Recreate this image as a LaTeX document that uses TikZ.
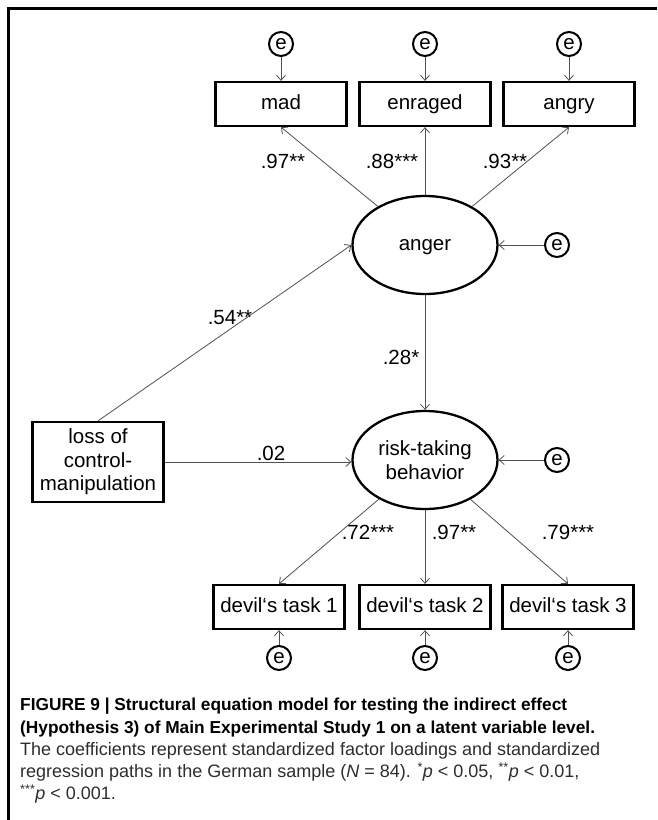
\documentclass[tikz,border=0pt]{standalone}
\usepackage{fontspec}
\setmainfont{Liberation Sans}
\usetikzlibrary{arrows.meta}
\usetikzlibrary{shapes}
\definecolor{pathgray}{RGB}{80,80,80}
\definecolor{capgray}{RGB}{45,45,45}

\begin{document}
\begin{tikzpicture}[x=1pt,y=-1pt]
      \tikzstyle{every node}=[font=\fontsize{20.5}{23.5}\selectfont, inner sep=0pt]
      \tikzstyle{txt}=[text height=15pt, text depth=4.3pt]
      \tikzstyle{box}=[draw, rectangle, line width=2.3pt, minimum width=131pt, minimum height=44pt]
      \tikzstyle{obs}=[box, txt]
      \tikzstyle{lat}=[draw, ellipse, line width=2.3pt, minimum width=145pt, minimum height=98pt]
      \tikzstyle{err}=[draw, circle, line width=2pt, minimum size=24pt]
      \tikzstyle{arr}=[draw=pathgray, line width=0.8pt, -{Straight Barb[length=5pt,width=9pt]}]
      \useasboundingbox (0,0) rectangle (657,820);
      \draw[line width=3pt] (657,8) -- (8,8) -- (8,820);

      % measurement of anger
      \node[err] (e1) at (281,44) {e};
      \node[err] (e2) at (425,44) {e};
      \node[err] (e3) at (569,44) {e};
      \node[obs] (mad) at (281,104) {mad};
      \node[obs] (enraged) at (425,104) {enraged};
      \node[obs] (angry) at (569,104) {angry};
      \node[lat, txt] (anger) at (425,245) {anger};
      \node[err] (e4) at (557,245) {e};

      % manipulation and outcome
      \node[box, minimum height=80pt, align=center] (loss) at (98,462) {loss of\\control-\\manipulation};
      \node[lat, align=center] (risk) at (425,460) {risk-taking\\behavior};
      \node[err] (e5) at (557,460) {e};

      % measurement of risk-taking
      \node[obs] (task1) at (279,607) {devil‘s task 1};
      \node[obs] (task2) at (425,607) {devil‘s task 2};
      \node[obs] (task3) at (568,607) {devil‘s task 3};
      \node[err] (e6) at (279,658) {e};
      \node[err] (e7) at (425,658) {e};
      \node[err] (e8) at (568,658) {e};

      \draw[arr] (e1) -- (mad);
      \draw[arr] (e2) -- (enraged);
      \draw[arr] (e3) -- (angry);
      \draw[arr] (anger) -- (mad.south);
      \draw[arr] (anger) -- (enraged);
      \draw[arr] (anger) -- (angry.south);
      \draw[arr] (e4) -- (anger);
      \draw[arr] (loss.north) -- (anger.west);
      \draw[arr] (anger) -- (risk);
      \draw[arr] (loss.east) -- (loss.east -| risk.west);
      \draw[arr] (e5) -- (risk);
      \draw[arr] (risk) -- (task1.north);
      \draw[arr] (risk) -- (task2);
      \draw[arr] (risk) -- (task3.north);
      \draw[arr] (e6) -- (task1);
      \draw[arr] (e7) -- (task2);
      \draw[arr] (e8) -- (task3);

      % coefficients
      \node (c1) at (283,161) {.97**};
      \node (c2) at (392,161) {.88***};
      \node (c3) at (505,161) {.93**};
      \node (c4) at (230,318) {.54**};
      \node (c5) at (401,357) {.28*};
      \node (c6) at (271,453) {.02};
      \node (c7) at (368,532) {.72***};
      \node (c8) at (454,532) {.97**};
      \node (c9) at (568,532) {.79***};

      \node[anchor=north west, align=left, text=capgray, font=\fontsize{18}{22.3}\selectfont] (caption) at (20,698)
        {\textcolor{black}{\fontsize{17.3}{22.3}\selectfont\bfseries FIGURE 9 | Structural equation model for testing the indirect effect}\\
         \textcolor{black}{\fontsize{17.3}{22.3}\selectfont\bfseries (Hypothesis 3) of Main Experimental Study 1 on a latent variable level.}\\
         The coefficients represent standardized factor loadings and standardized\\
         regression paths in the German sample (\textit{N} = 84). \textsuperscript{*}\textit{p} < 0.05, \textsuperscript{**}\textit{p} < 0.01,\\
         \textsuperscript{***}\textit{p} < 0.001.};
    \end{tikzpicture}
\end{document}
